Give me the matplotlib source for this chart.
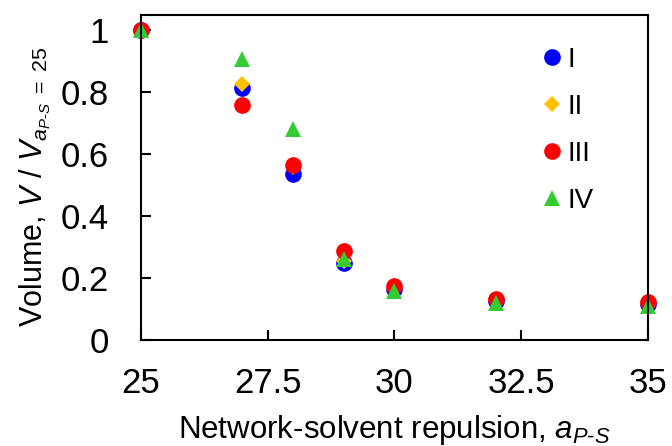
"""
Normalised network volume vs network-solvent repulsion for four systems.
"""
import matplotlib
import matplotlib.pyplot as plt

matplotlib.use('Agg')

plt.rcParams['font.family'] = ['Liberation Sans', 'DejaVu Sans']
plt.rcParams['mathtext.fontset'] = 'custom'
plt.rcParams['mathtext.rm'] = 'Liberation Sans'
plt.rcParams['mathtext.it'] = 'Liberation Sans:italic'

# repulsion parameter a_P-S
a_ps = [25, 27, 28, 29, 30, 32, 35]

# normalised volumes
vol_I = [1.0, 0.815, 0.535, 0.25, 0.165, 0.125, 0.115]
vol_II = [1.0, 0.827, 0.56, 0.255, 0.165, 0.13, 0.115]
vol_III = [1.0, 0.76, 0.565, 0.287, 0.174, 0.133, 0.122]
vol_IV = [1.0, 0.908, 0.683, 0.262, 0.158, 0.12, 0.11]

series = [
    ('I', vol_I, 'o', '#0000FF', 12),
    ('II', vol_II, 'D', '#FFC000', 8.5),
    ('III', vol_III, 'o', '#FF0000', 12),
    ('IV', vol_IV, '^', '#33CC33', 12),
]

fig = plt.figure(figsize=(6.72, 4.46), dpi=100)
ax = fig.add_axes([140.7 / 672, 1 - 340 / 446, 507.3 / 672, 325 / 446])

for label, vals, mk, col, ms in series:
    ax.plot(a_ps, vals, linestyle='none', marker=mk, color=col,
            markersize=ms, markeredgewidth=0, label=label, clip_on=False)

ax.set_xlim(25, 35)
ax.set_ylim(0, 1.05)
ax.set_xticks([25, 27.5, 30, 32.5, 35])
ax.set_xticklabels(['25', '27.5', '30', '32.5', '35'])
ax.set_yticks([0, 0.2, 0.4, 0.6, 0.8, 1.0])
ax.set_yticklabels(['0', '0.2', '0.4', '0.6', '0.8', '1'])

ax.tick_params(direction='in', length=7.5, width=1.5, labelsize=25)
ax.tick_params(axis='y', pad=23)
ax.tick_params(axis='x', pad=19.5)
for sp in ax.spines.values():
    sp.set_linewidth(1.5)

ax.set_xlabel(r'Network-solvent repulsion, $a_{P\text{-}S}$', fontsize=22.5, labelpad=9)
ax.set_ylabel(r'Volume, $V$ / $V_{a_{P\text{-}S}\ =\ 25}$', fontsize=22)
ax.yaxis.set_label_coords(-0.172, 0.47)

ax.legend(loc='upper left', bbox_to_anchor=(0.783, 0.9015), frameon=False,
          fontsize=20, handletextpad=0.06, labelspacing=0.75,
          handlelength=1.0, borderpad=0, borderaxespad=0)

plt.savefig('out.png', dpi=100)
plt.close()
